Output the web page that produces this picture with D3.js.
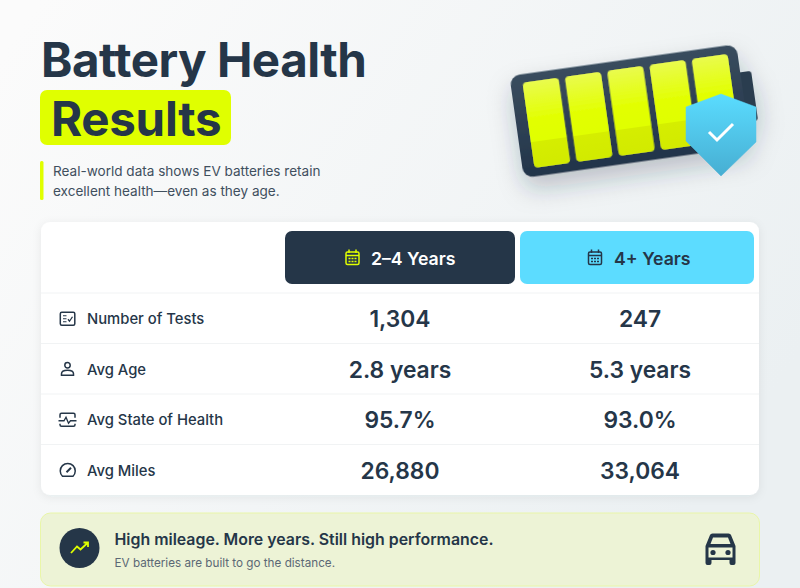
<!DOCTYPE html>
<html>
<head>
<meta charset="utf-8">
<script src="https://cdn.jsdelivr.net/npm/d3@7"></script>
<style>
html, body { margin: 0; padding: 0; background: #f6f8f8; overflow: hidden; }
text { font-family: Inter, "Noto Sans", sans-serif; fill: #253648; }
</style>
</head>
<body>
<div id="chart"></div>
<script>
const periods = ["2–4 Years", "4+ Years"]
const metrics = ["Number of Tests", "Avg Age", "Avg State of Health", "Avg Miles"]
const valuesShort = ["1,304", "2.8 years", "95.7%", "26,880"]
const valuesLong = ["247", "5.3 years", "93.0%", "33,064"]
const batteryCells = [0, 1, 2, 3, 4]

const navy = "#253648"
const lime = "#e0ff00"
const sky = "#5cdcff"

const svg = d3.select("#chart").append("svg").attr("width", 800).attr("height", 588).style("display", "block")
const defs = svg.append("defs")

// gradients and shadows
const bg = defs.append("linearGradient").attr("id", "bg").attr("x1", 0).attr("y1", 0.1).attr("x2", 1).attr("y2", 0.6)
bg.append("stop").attr("offset", "0%").attr("stop-color", "#fbfbfb")
bg.append("stop").attr("offset", "100%").attr("stop-color", "#ebf0f2")

const bodyGrad = defs.append("linearGradient").attr("id", "bodyGrad").attr("x1", 0).attr("y1", 0).attr("x2", 0).attr("y2", 1)
bodyGrad.append("stop").attr("offset", "0%").attr("stop-color", "#3a4d5e")
bodyGrad.append("stop").attr("offset", "100%").attr("stop-color", "#22344a")

const cellGrad = defs.append("linearGradient").attr("id", "cellGrad").attr("x1", 0).attr("y1", 0).attr("x2", 0).attr("y2", 1)
cellGrad.append("stop").attr("offset", "0%").attr("stop-color", "#e9fb4e")
cellGrad.append("stop").attr("offset", "45%").attr("stop-color", "#e2ff00")
cellGrad.append("stop").attr("offset", "69.9%").attr("stop-color", "#e0ff00")
cellGrad.append("stop").attr("offset", "70%").attr("stop-color", "#d5ee00")
cellGrad.append("stop").attr("offset", "100%").attr("stop-color", "#d2ea00")

const shieldGrad = defs.append("linearGradient").attr("id", "shieldGrad").attr("x1", 0).attr("y1", 0).attr("x2", 0).attr("y2", 1)
shieldGrad.append("stop").attr("offset", "0%").attr("stop-color", "#5adcff")
shieldGrad.append("stop").attr("offset", "100%").attr("stop-color", "#47aed2")

const cardShadow = defs.append("filter").attr("id", "cardShadow").attr("x", "-5%").attr("y", "-5%").attr("width", "110%").attr("height", "115%")
cardShadow.append("feDropShadow").attr("dx", 0).attr("dy", 2).attr("stdDeviation", 5).attr("flood-color", "#253648").attr("flood-opacity", 0.07)

const batShadow = defs.append("filter").attr("id", "batShadow").attr("x", "-25%").attr("y", "-30%").attr("width", "150%").attr("height", "200%")
batShadow.append("feDropShadow").attr("dx", 0).attr("dy", 12).attr("stdDeviation", 12).attr("flood-color", "#253648").attr("flood-opacity", 0.26)

svg.append("rect").attr("width", 800).attr("height", 588).attr("fill", "url(#bg)")

// title block
svg.append("text").attr("x", 41).attr("y", 77).attr("font-size", 47.5).attr("font-weight", 700)
    .attr("letter-spacing", -0.5).text("Battery Health")
svg.append("rect").attr("x", 40).attr("y", 90).attr("width", 191).attr("height", 55).attr("rx", 7).attr("fill", lime)
svg.append("text").attr("x", 51).attr("y", 136).attr("font-size", 47.5).attr("font-weight", 700)
    .attr("letter-spacing", -0.3).text("Results")

svg.append("rect").attr("x", 40).attr("y", 161).attr("width", 3.5).attr("height", 39).attr("rx", 1.5).attr("fill", lime)
const sub = svg.append("text").attr("font-size", 13.55).style("fill", "#3f4f5e")
sub.append("tspan").attr("x", 53).attr("y", 176).text("Real-world data shows EV batteries retain")
sub.append("tspan").attr("x", 53).attr("y", 196).text("excellent health—even as they age.")

// battery illustration
const battery = svg.append("g").attr("transform", "translate(630.5,111) rotate(-8)").attr("filter", "url(#batShadow)")
battery.append("rect").attr("x", 110).attr("y", -23).attr("width", 15).attr("height", 50).attr("rx", 3).attr("fill", "#2b3d50")
battery.append("rect").attr("x", -115).attr("y", -51.5).attr("width", 229).attr("height", 103).attr("rx", 10).attr("fill", "url(#bodyGrad)")

const cellScale = d3.scaleBand().domain(batteryCells).range([-103, 104]).paddingInner(0.15)
battery.selectAll("rect.cell").data(batteryCells).join("rect")
    .attr("class", "cell")
    .attr("x", d => cellScale(d))
    .attr("y", -43)
    .attr("width", cellScale.bandwidth())
    .attr("height", 86)
    .attr("rx", 4)
    .attr("fill", "url(#cellGrad)")

// shield
const shield = svg.append("g").attr("transform", "translate(721,135)")
shield.append("path")
    .attr("d", "M0,-41 L35,-28 L35,7 L0,41 L-35,6 L-35,-28 Z")
    .attr("fill", "url(#shieldGrad)")
    .attr("stroke", "url(#shieldGrad)").attr("stroke-width", 0.5)
shield.append("path").attr("d", "M-12,-3 L-4,5 L12,-11").attr("fill", "none").attr("stroke", "#fff").attr("stroke-width", 3)

// table card
const card = { x: 41, y: 222, w: 718, h: 273 }
svg.append("rect").attr("x", card.x).attr("y", card.y).attr("width", card.w).attr("height", card.h)
    .attr("rx", 9).attr("fill", "#fff").attr("filter", "url(#cardShadow)")

const colScale = d3.scaleBand().domain(periods).range([280, 760])
const rowScale = d3.scaleBand().domain(metrics).range([293, 495])

// column headers
const headFill = [navy, sky]
const headText = ["#fff", navy]
const iconColor = [lime, navy]
const insetLeft = [5, 0]
const insetRight = [5, 6]

const heads = svg.selectAll("g.head").data(periods).join("g").attr("class", "head")
heads.append("rect")
    .attr("x", (d, i) => colScale(d) + insetLeft[i])
    .attr("y", 231)
    .attr("width", (d, i) => colScale.bandwidth() - insetLeft[i] - insetRight[i])
    .attr("height", 53)
    .attr("rx", 7)
    .attr("fill", (d, i) => headFill[i])
heads.append("text")
    .attr("x", (d, i) => colScale(d) + (i === 0 ? 91 : 94))
    .attr("y", 264.5)
    .attr("font-size", 17.7)
    .attr("font-weight", 600)
    .style("fill", (d, i) => headText[i])
    .text(d => d)

// calendar icons
const cal = heads.append("g")
    .attr("transform", (d, i) => `translate(${colScale(d) + (i === 0 ? 72.5 : 75)},257.5)`)
    .attr("fill", "none")
    .attr("stroke", (d, i) => iconColor[i])
cal.append("rect").attr("x", -6.5).attr("y", -5.5).attr("width", 13).attr("height", 12.5).attr("rx", 1.5).attr("stroke-width", 1.5)
cal.append("path").attr("d", "M-6.5,-2 H6.5 M-3.5,-8 V-4.5 M3.5,-8 V-4.5").attr("stroke-width", 1.5)
cal.append("path").attr("d", "M-4,1 H4 M-4,4 H4").attr("stroke-width", 1.6).attr("stroke-dasharray", "2 1")

// rows
svg.selectAll("line.rule").data(metrics).join("line")
    .attr("class", "rule")
    .attr("x1", card.x).attr("x2", card.x + card.w)
    .attr("y1", d => rowScale(d)).attr("y2", d => rowScale(d))
    .attr("stroke", "#f1f3f4").attr("stroke-width", 1)

const rowY = d => rowScale(d) + rowScale.bandwidth() / 2 + 0.5

svg.selectAll("text.metric").data(metrics).join("text")
    .attr("class", "metric")
    .attr("x", 87)
    .attr("y", d => rowY(d) + 5.5)
    .attr("font-size", 14.8)
    .attr("font-weight", 500)
    .text(d => d)

const valueRows = [valuesShort, valuesLong]
periods.forEach((p, c) => {
    svg.selectAll("text.val" + c).data(valueRows[c]).join("text")
        .attr("class", "val" + c)
        .attr("x", colScale(p) + colScale.bandwidth() / 2)
        .attr("y", (d, i) => rowY(metrics[i]) + 8.5)
        .attr("text-anchor", "middle")
        .attr("font-size", 22.8)
        .attr("font-weight", 600)
        .text(d => d)
})

// row icons
const icon = svg.selectAll("g.icon").data(metrics).join("g")
    .attr("class", "icon")
    .attr("transform", d => `translate(67.5,${rowY(d)})`)
    .attr("fill", "none").attr("stroke", navy).attr("stroke-width", 1.5)

const i0 = icon.filter((d, i) => i === 0)
i0.append("rect").attr("x", -7.2).attr("y", -6.5).attr("width", 14.5).attr("height", 13).attr("rx", 1.5)
i0.append("path").attr("d", "M-4.5,-3 H-1 M-4.5,0 H-1 M-4.5,3 H-1").attr("stroke-width", 1.2)
i0.append("path").attr("d", "M0.5,0.5 L2,2.5 L5,-2").attr("stroke-width", 1.3)

const i1 = icon.filter((d, i) => i === 1)
i1.append("circle").attr("cy", -4).attr("r", 2.7)
i1.append("path").attr("d", "M-6,6 V4.5 C-6,1.5 -3,1 0,1 C3,1 6,1.5 6,4.5 V6 Z")

const i2 = icon.filter((d, i) => i === 2)
i2.append("path").attr("d", "M-7.5,-2 V-5 Q-7.5,-6.5 -6,-6.5 H6 Q7.5,-6.5 7.5,-5 V-2 M-7.5,4 V5 Q-7.5,6.5 -6,6.5 H6 Q7.5,6.5 7.5,5 V4")
i2.append("path").attr("d", "M-9,1 H-3.5 L-1.5,-2.5 L1,3.5 L3,1 H9").attr("stroke-width", 1.3)

const i3 = icon.filter((d, i) => i === 3)
i3.append("path").attr("d", "M-5,6 A7.5,7.5 0 1 1 5.5,6 Z")
i3.append("path").attr("d", "M-1,2 L3.5,-2.5").attr("stroke-width", 2)

// callout
svg.append("rect").attr("x", 40.5).attr("y", 513).attr("width", 719).attr("height", 73).attr("rx", 10)
    .attr("fill", "#edf3d6").attr("stroke", "#e9f6a8").attr("stroke-width", 1)
svg.append("circle").attr("cx", 79.5).attr("cy", 548).attr("r", 20).attr("fill", navy)
svg.append("path").attr("d", "M71,553 L77,546.5 L80.5,549.5 L87.5,543 M83.5,542.5 H88 V547")
    .attr("fill", "none").attr("stroke", lime).attr("stroke-width", 1.8)

svg.append("text").attr("x", 114.5).attr("y", 544.5).attr("font-size", 15.9).attr("font-weight", 600)
    .text("High mileage. More years. Still high performance.")
svg.append("text").attr("x", 114.5).attr("y", 567).attr("font-size", 11.7).style("fill", "#5b6875")
    .text("EV batteries are built to go the distance.")

// car icon
const car = svg.append("g").attr("transform", "translate(720.5,550)")
car.append("path")
    .attr("d", "M-15,-4 L-10.5,-15 Q-10,-16.5 -8,-16.5 H8 Q10,-16.5 10.5,-15 L15,-4 V13 Q15,15 13,15 H11 Q9,15 9,13 V10 H-9 V13 Q-9,15 -11,15 H-13 Q-15,15 -15,13 Z")
    .attr("fill", navy)
car.append("path").attr("d", "M-10,-6 L-7.5,-12.5 H7.5 L10,-6 Z").attr("fill", "#edf3d6")
car.append("rect").attr("x", -12).attr("y", -2.5).attr("width", 24).attr("height", 10).attr("fill", "#edf3d6")
car.append("circle").attr("cx", -7.5).attr("cy", 2.5).attr("r", 2.6).attr("fill", navy)
car.append("circle").attr("cx", 7.5).attr("cy", 2.5).attr("r", 2.6).attr("fill", navy)
</script>
</body>
</html>
